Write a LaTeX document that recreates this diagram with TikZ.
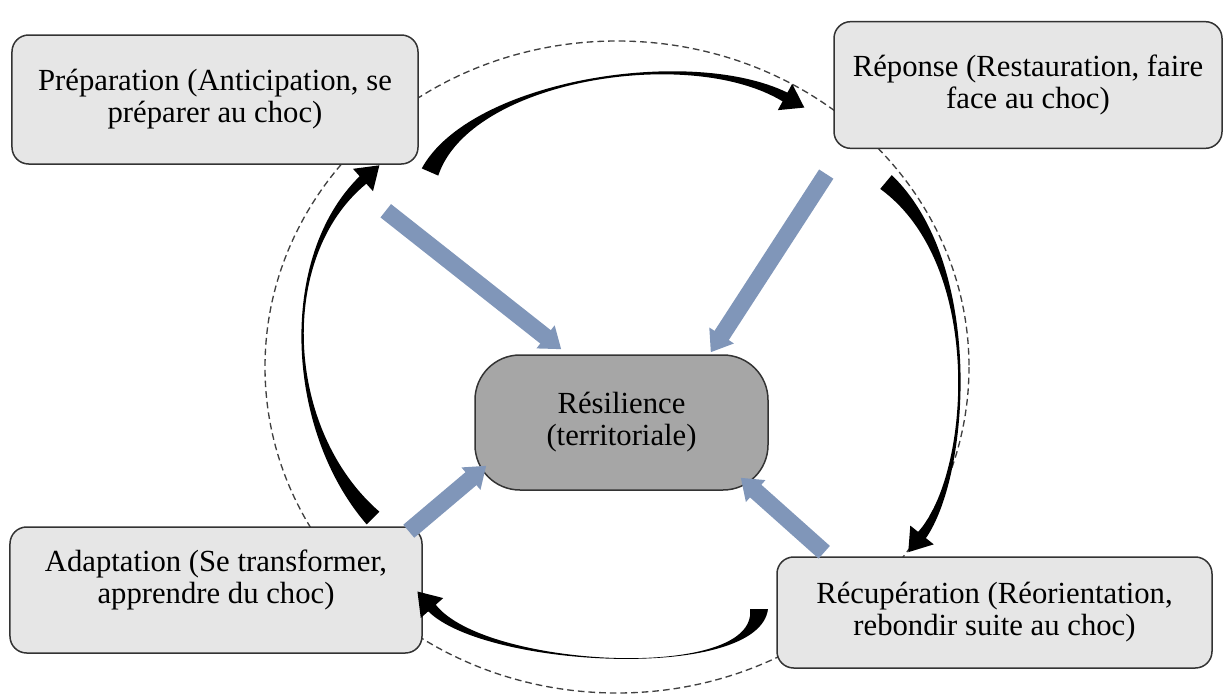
\documentclass[tikz,border=0pt]{standalone}
\usepackage{fontspec}
\setmainfont{Liberation Serif}
\usepackage{tikz}
\usetikzlibrary{calc,arrows.meta}
\definecolor{boxgray}{RGB}{230,230,230}
\definecolor{coregray}{RGB}{166,166,166}
\definecolor{bluegray}{RGB}{128,150,185}

\begin{document}
\begin{tikzpicture}[x=0.3mm, y=-0.3mm,
  phase/.style={draw=black!80, line width=0.45mm, fill=boxgray, rounded corners=5mm, align=center, inner sep=0pt},
  core/.style={phase, fill=coregray, rounded corners=13.5mm},
  flow/.style={draw=bluegray, line width=5.1mm, -{Triangle[width=8.4mm,length=6mm]}},
  font=\fontsize{26.2}{27.2}\selectfont]

  \useasboundingbox (0,0) rectangle (1229,695);

  % tapered curved arrow: tail, control 1, control 2, head base
  \newcommand\fleche[4]{%
    \fill ($(#1)!2.7mm!90:(#2)$) .. controls (#2) and (#3) .. ($(#4)!1.5mm!-90:(#3)$)
      -- ($(#4)!4.5mm!-90:(#3)$) -- ($(#4)!-6.6mm!(#3)$) -- ($(#4)!4.5mm!90:(#3)$)
      -- ($(#4)!1.5mm!90:(#3)$) .. controls (#3) and (#2) .. ($(#1)!2.7mm!-90:(#2)$) -- cycle;}

  % dashed cycle behind the boxes
  \coordinate (mid) at (617,367);
  \draw[black!75, line width=0.4mm, dash pattern=on 2mm off 1.2mm] (mid) ellipse [x radius=352, y radius=326];

  \node[phase, minimum width=121.8mm, minimum height=38.7mm] (prep) at (215,99.5) {Préparation (Anticipation, se\\préparer au choc)};
  \node[phase, minimum width=116.4mm, minimum height=38mm] (rep) at (1028,85) {Réponse (Restauration, faire\\face au choc)};
  \node[phase, minimum width=123.6mm, minimum height=37.8mm] (adapt) at (216,590) {Adaptation (Se transformer,\\apprendre du choc)\\[-5pt]};
  \node[phase, minimum width=130.5mm, minimum height=33.3mm] (recup) at (994.5,612.5) {Récupération (Réorientation,\\rebondir suite au choc)};
  \node[core, minimum width=87.9mm, minimum height=40.5mm] (res) at (621.5,422.5) {Résilience\\(territoriale)};

  \fleche{430,172}{470,80}{690,45}{785,97}    %% prep->rep
  \fleche{886,182}{985,265}{970,475}{922,535} %% rep->recup
  \fleche{759,609}{759,682}{485,668}{432,608} %% recup->adapt
  \fleche{373,518}{285,430}{277,257}{363,180} %% adapt->prep

  \draw[flow] ($(prep.south east)+(-33,46)$) -- ($(res.north west)+(87,-5)$);   % prep->res
  \draw[flow] ($(rep.south west)+(-7,25)$) -- ($(res.north east)+(-58,-2)$);    % rep->res
  \draw[flow] ($(adapt.north east)+(-14,5)$) -- ($(res.south west)+(12,-25)$);  % adapt->res
  \draw[flow] ($(recup.north west)+(48,-4)$) -- ($(res.south east)+(-28,-13)$); % recup->res

\end{tikzpicture}
\end{document}
